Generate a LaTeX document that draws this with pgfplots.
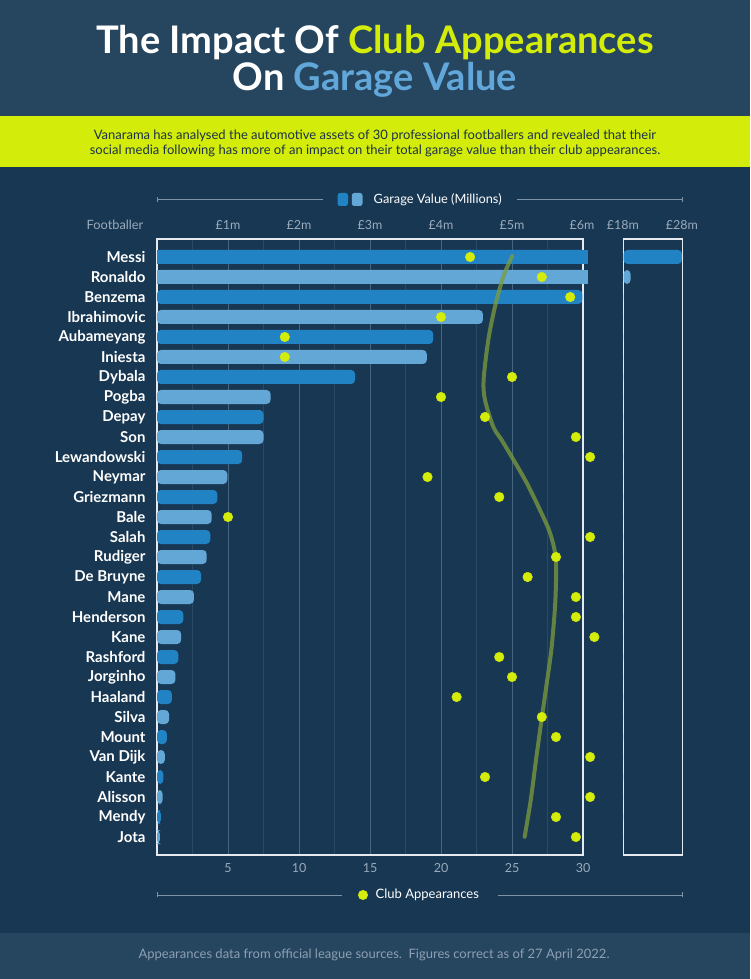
\documentclass[border=0pt]{standalone}
\usepackage{pgfplots}
\pgfplotsset{compat=1.18}
\usepackage{pgfplotstable}
\usepackage{fontspec}
\setmainfont{Lato}
\definecolor{hdr}{HTML}{26465F}
\definecolor{bg}{HTML}{183752}
\definecolor{lime}{HTML}{D4EC0A}
\definecolor{titleblue}{HTML}{62A7DA}
\definecolor{bardark}{HTML}{2183C4}
\definecolor{barlight}{HTML}{63A7D6}
\definecolor{gridmaj}{HTML}{48667F}
\definecolor{gridmin}{HTML}{2A4962}
\definecolor{boxc}{HTML}{E4EAF0}
\definecolor{lbl}{HTML}{9AABBC}
\definecolor{trend}{HTML}{7E9C3C}
\definecolor{subt}{HTML}{1B3249}
\definecolor{legline}{HTML}{7F93A6}
\definecolor{foot}{HTML}{8D9FB3}

% row: 0 = Messi ... 29 = Jota; gv = garage value (millions); apps = club appearances
\pgfplotstableread{
row gv apps shade
0 27.9 22.05 0
1 19.2 27.1 1
2 5.99 29.1 0
3 4.59 20.0 1
4 3.89 9.0 0
5 3.80 9.0 1
6 2.79 25.0 0
7 1.60 20.0 1
8 1.50 23.1 0
9 1.50 29.5 1
10 1.20 30.5 0
11 0.99 19.05 1
12 0.85 24.1 0
13 0.77 5.0 1
14 0.75 30.5 0
15 0.70 28.1 1
16 0.62 26.1 0
17 0.52 29.5 1
18 0.37 29.5 0
19 0.34 30.8 1
20 0.30 24.1 0
21 0.26 25.0 1
22 0.21 21.1 0
23 0.17 27.1 1
24 0.14 28.1 0
25 0.11 30.5 1
26 0.09 23.1 0
27 0.08 30.5 1
28 0.055 28.1 0
29 0.04 29.5 1
}\players

\begin{document}
\begin{tikzpicture}[x=1pt,y=1pt]
\useasboundingbox (0,0) rectangle (750,979);
\fill[bg] (0,0) rectangle (750,979);
\fill[hdr] (0,863) rectangle (750,979);
\fill[lime] (0,812) rectangle (750,863);
\fill[hdr] (0,0) rectangle (750,46);

% titles
\node[anchor=base, inner sep=0pt, text=white, font=\fontsize{38}{42}\selectfont\bfseries] at (375,925) {The Impact Of \textcolor{lime}{Club Appearances}};
\node[anchor=base, inner sep=0pt, text=white, font=\fontsize{38}{42}\selectfont\bfseries] at (375,888) {On \textcolor{titleblue}{Garage Value}};
\node[anchor=base, inner sep=0pt, text=subt, font=\fontsize{13}{15}\selectfont] at (375,839.5) {Vanarama has analysed the automotive assets of 30 professional footballers and revealed that their};
\node[anchor=base, inner sep=0pt, text=subt, font=\fontsize{13}{15}\selectfont] at (375,824.5) {social media following has more of an impact on their total garage value than their club appearances.};

% bars, grid, names
\begin{axis}[
  at={(157pt,124pt)}, anchor=south west,
  width=426pt, height=616pt, scale only axis,
  xmin=2, xmax=32, ymin=-0.9, ymax=29.9, y dir=reverse,
  axis line style={draw=boxc, line width=1.2pt},
  xtick={7,12,17,22,27,32}, xticklabels={5,10,15,20,25,30},
  minor xtick={4.5,9.5,14.5,19.5,24.5,29.5},
  xmajorgrids, xminorgrids,
  major grid style={draw=gridmaj, line width=0.8pt},
  minor grid style={draw=gridmin, line width=0.8pt},
  ytick={0,...,29},
  yticklabels={Messi,Ronaldo,Benzema,Ibrahimovic,Aubameyang,Iniesta,Dybala,Pogba,Depay,Son,Lewandowski,Neymar,Griezmann,Bale,Salah,Rudiger,De Bruyne,Mane,Henderson,Kane,Rashford,Jorginho,Haaland,Silva,Mount,Van Dijk,Kante,Alisson,Mendy,Jota},
  major tick length=0pt, minor tick length=0pt,
  xticklabel style={text=lbl, font=\fontsize{12.5}{13}\selectfont, yshift=-5pt},
  yticklabel style={text=white, font=\fontsize{15}{16}\selectfont\bfseries, xshift=-8pt},
]
\addplot[xbar, bar width=14pt, fill=bardark, draw=none, rounded corners=4pt,
  restrict expr to domain={\thisrow{shade}}{0:0}]
  table[x expr=\thisrow{gv}*5+2, y=row] {\players};
\addplot[xbar, bar width=14pt, fill=barlight, draw=none, rounded corners=4pt,
  restrict expr to domain={\thisrow{shade}}{1:1}]
  table[x expr=\thisrow{gv}*5+2, y=row] {\players};
\end{axis}

% broken-axis panel (18m - 28m)
\begin{axis}[
  at={(623.5pt,124pt)}, anchor=south west,
  width=59pt, height=616pt, scale only axis,
  xmin=18, xmax=28, ymin=-0.9, ymax=29.9, y dir=reverse,
  axis line style={draw=boxc, line width=1.2pt},
  xtick=\empty, ytick=\empty,
]
\addplot[xbar, bar width=14pt, fill=bardark, draw=none, rounded corners=4pt,
  restrict expr to domain={\thisrow{shade}}{0:0}]
  table[x=gv, y=row] {\players};
\addplot[xbar, bar width=14pt, fill=barlight, draw=none, rounded corners=4pt,
  restrict expr to domain={\thisrow{shade}}{1:1}]
  table[x=gv, y=row] {\players};
\end{axis}

% appearances dots, trend, and the broken ends of the two longest bars
\begin{axis}[
  at={(157pt,124pt)}, anchor=south west,
  width=426pt, height=616pt, scale only axis,
  xmin=0, xmax=30, ymin=-0.9, ymax=29.9, y dir=reverse,
  hide axis, clip=false,
]
\addplot[xbar, bar width=14pt, fill=bardark, draw=none,
  restrict expr to domain={\thisrow{row}}{0:0}]
  table[x expr={min(\thisrow{gv}*5,30.35)}, y=row] {\players};
\addplot[xbar, bar width=14pt, fill=barlight, draw=none,
  restrict expr to domain={\thisrow{row}}{1:1}]
  table[x expr={min(\thisrow{gv}*5,30.35)}, y=row] {\players};
\addplot[trend, line width=4pt, opacity=0.75, smooth, tension=0.5, line cap=round] coordinates {
(25.02,-0.05) (24.39,0.98) (23.8,2.49) (23.33,4.15) (23.0,6.15) (23.1,7.15) (23.68,8.49)
(24.27,9.15) (24.98,9.99) (26.04,11.3) (26.97,12.65) (27.68,13.8) (28.08,14.99) (28.1,16.15)
(28.03,17.5) (27.84,19.15) (27.68,20.15) (27.11,22.99) (26.69,25.15) (26.32,27.15) (25.89,28.99)};
\addplot[lime, only marks, mark=*, mark size=4.8pt, mark options={fill=lime, draw=none}]
  table[x=apps, y=row] {\players};
\end{axis}

% top labels
\node[text=lbl, font=\fontsize{12.8}{13}\selectfont] at (115,754) {Footballer};
\foreach \xx/\tt in {228/£1m,299/£2m,370/£3m,441/£4m,512/£5m,582/£6m,623/£18m,682/£28m}
  \node[text=lbl, font=\fontsize{12.5}{13}\selectfont] at (\xx,754) {\tt};

% top legend
\draw[legline, line width=0.8pt] (157,779.5) -- (323,779.5);
\draw[legline, line width=0.8pt] (517,779.5) -- (682.4,779.5);
\draw[legline, line width=0.8pt] (157,777) -- (157,782);
\draw[legline, line width=0.8pt] (682.4,777) -- (682.4,782);
\fill[bardark, rounded corners=2.5pt] (337.5,773) rectangle (348,786);
\fill[barlight, rounded corners=2.5pt] (351.8,773) rectangle (362.5,786);
\node[anchor=west, inner sep=0pt, text=white, font=\fontsize{12.8}{13}\selectfont] at (373.5,779.5) {Garage Value (Millions)};

% bottom legend
\draw[legline, line width=0.8pt] (157,84) -- (341.6,84);
\draw[legline, line width=0.8pt] (497.6,84) -- (682.4,84);
\draw[legline, line width=0.8pt] (157,81.5) -- (157,86.5);
\draw[legline, line width=0.8pt] (682.4,81.5) -- (682.4,86.5);
\fill[lime] (363,84) circle (5);
\node[anchor=west, inner sep=0pt, text=white, font=\fontsize{13}{14}\selectfont] at (375.5,84) {Club Appearances};

% footer
\node[text=foot, font=\fontsize{13}{14}\selectfont] at (374,24) {Appearances data from official league sources.\ \ Figures correct as of 27 April 2022.};
\end{tikzpicture}
\end{document}
